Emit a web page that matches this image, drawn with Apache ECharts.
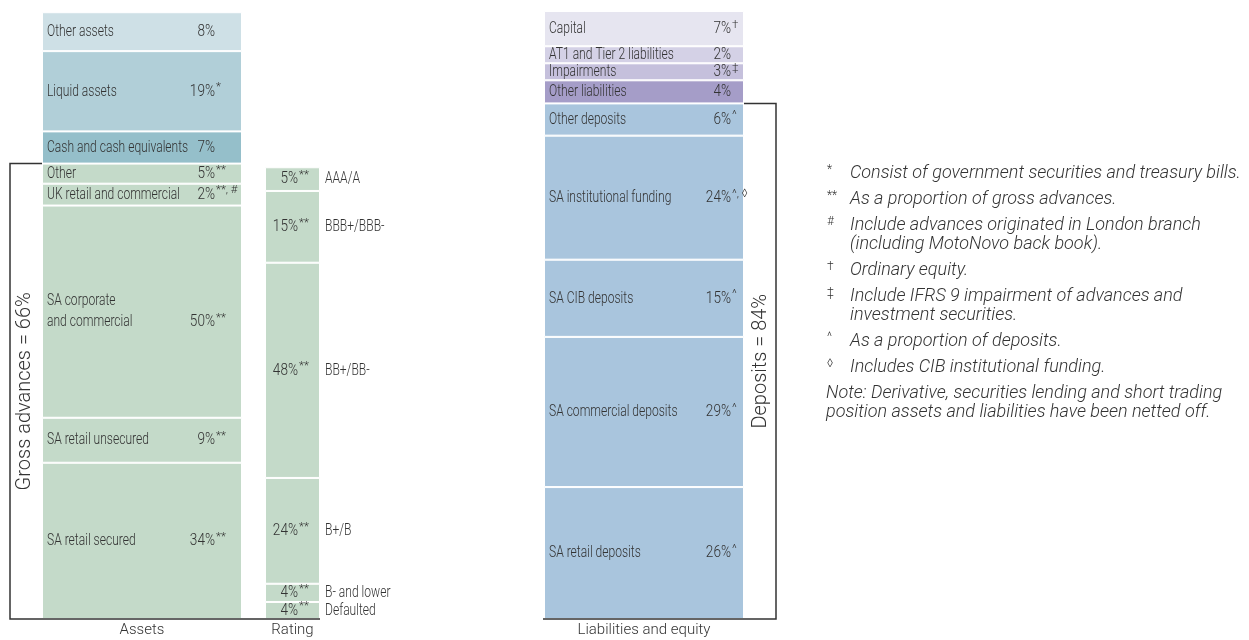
<!DOCTYPE html>
<html>
<head>
<meta charset="utf-8">
<script src="https://cdn.jsdelivr.net/npm/echarts@6/dist/echarts.min.js"></script>
<style>
  html, body { margin: 0; padding: 0; background: #fff; }
  #chart { width: 1249px; height: 640px; }
</style>
</head>
<body>
<div id="chart"></div>
<script>
// blocks are listed top to bottom; heights are the drawn share of a full column (full column = 100)
const assetNames = ['Other assets', 'Liquid assets', 'Cash and cash equivalents', 'Other', 'UK retail and commercial', 'SA corporate\nand commercial', 'SA retail unsecured', 'SA retail secured']
const assetPct = ['8%', '19%', '7%', '5%', '2%', '50%', '9%', '34%']
const assetMarks = ['', '*', '', '**', '**, #', '**', '**', '**']
const assetHeights = [6.4, 13.2, 5.3, 3.3, 3.6, 34.9, 7.4, 25.7]
const advanceCount = 5 // the last five asset blocks make up gross advances

const ratingNames = ['AAA/A', 'BBB+/BBB-', 'BB+/BB-', 'B+/B', 'B- and lower', 'Defaulted']
const ratingPct = ['5%', '15%', '48%', '24%', '4%', '4%']
const ratingHeights = [3.9, 11.8, 35.4, 17.4, 3.0, 2.8]

const liabNames = ['Capital', 'AT1 and Tier 2 liabilities', 'Impairments', 'Other liabilities', 'Other deposits', 'SA institutional funding', 'SA CIB deposits', 'SA commercial deposits', 'SA retail deposits']
const liabPct = ['7%', '2%', '3%', '4%', '6%', '24%', '15%', '29%', '26%']
const liabMarks = ['†', '', '‡', '', '^', '^, ◊', '^', '^', '^']
const liabHeights = [5.8, 2.8, 2.8, 3.8, 5.3, 20.4, 12.7, 24.7, 21.7]
const depositCount = 5

const columnTitles = ['Assets', 'Rating', 'Liabilities and equity']

const footSymbols = ['*', '**', '#', '†', '‡', '^', '◊']
const footTexts = [
  ['Consist of government securities and treasury bills.'],
  ['As a proportion of gross advances.'],
  ['Include advances originated in London branch', '(including MotoNovo back book).'],
  ['Ordinary equity.'],
  ['Include IFRS 9 impairment of advances and', 'investment securities.'],
  ['As a proportion of deposits.'],
  ['Includes CIB institutional funding.']
]
const noteLines = ['Note: Derivative, securities lending and short trading', 'position assets and liabilities have been netted off.']

const assetColors = ['#cee0e6', '#b1cfd8', '#95bfca', '#c4dac9', '#c4dac9', '#c4dac9', '#c4dac9', '#c4dac9']
const liabColors = ['#e6e5f0', '#d4d1e6', '#c5c0dc', '#a59dc8', '#a9c5dd', '#a9c5dd', '#a9c5dd', '#a9c5dd', '#a9c5dd']
const green = '#c4dac9'

const face = 'Roboto, "Liberation Sans", sans-serif'
const ink = '#333'
const squeeze = 0.71 // the original uses a condensed face, so labels are narrowed
const pctSqueeze = 0.8
const labelFont = '300 17px ' + face
const supFont = '300 11.5px ' + face
const colTop = 11
const colBottom = 619
const cols = [
  { left: 42, width: 200 },
  { left: 265, width: 55 },
  { left: 544, width: 200 }
]

const chart = echarts.init(document.getElementById('chart'))

function blocks(gridIndex, heights, colorOf) {
  const list = []
  // stacking grows from the bottom, so walk the lists backwards
  for (let i = heights.length - 1; i >= 0; i--) {
    list.push({
      type: 'bar',
      xAxisIndex: gridIndex,
      yAxisIndex: gridIndex,
      stack: 'col' + gridIndex,
      barWidth: '100%',
      silent: true,
      itemStyle: { color: colorOf(i), borderColor: '#fff', borderWidth: 1 },
      data: [heights[i]]
    })
  }
  return list
}

chart.setOption({
  animation: false,
  grid: cols.map(c => ({ left: c.left, width: c.width, top: colTop, height: colBottom - colTop })),
  xAxis: cols.map((c, i) => ({
    type: 'category',
    gridIndex: i,
    data: [columnTitles[i]],
    axisLine: { show: false },
    axisTick: { show: false },
    axisLabel: { fontFamily: face, fontWeight: 300, fontSize: 15, color: ink, margin: 4 }
  })),
  yAxis: cols.map((c, i) => ({ type: 'value', gridIndex: i, min: 0, max: 100, show: false })),
  series: [].concat(
    blocks(0, assetHeights, i => assetColors[i]),
    blocks(1, ratingHeights, () => green),
    blocks(2, liabHeights, i => liabColors[i])
  )
})

const graphic = []

function txt(text, x, y, font, align, scaleX) {
  graphic.push({
    type: 'text',
    x: x,
    y: y,
    z: 100,
    scaleX: scaleX || 1,
    silent: true,
    style: { text: text, font: font, fill: ink, align: align || 'left', verticalAlign: 'middle', lineHeight: 21 }
  })
}

// midpoint of every block, read back through the grid's own scale
function mids(gridIndex, heights) {
  const out = []
  let acc = 0
  for (let i = heights.length - 1; i >= 0; i--) {
    out[i] = chart.convertToPixel({ gridIndex }, [0, acc + heights[i] / 2])[1]
    acc += heights[i]
  }
  return out
}

function nameBlocks(col, names, pct, marks, midY, pctRight) {
  names.forEach((name, i) => {
    const lines = name.split('\n').length
    const lastY = midY[i] + (lines - 1) * 10.5
    txt(name, col.left + 5, midY[i], labelFont, 'left', squeeze)
    txt(pct[i], pctRight, lastY, labelFont, 'right', pctSqueeze)
    if (marks[i]) txt(marks[i], pctRight + 1, lastY - 4, supFont)
  })
}

nameBlocks(cols[0], assetNames, assetPct, assetMarks, mids(0, assetHeights), 215)
nameBlocks(cols[2], liabNames, liabPct, liabMarks, mids(2, liabHeights), 731)

const ratingMid = mids(1, ratingHeights)
ratingNames.forEach((name, i) => {
  txt(ratingPct[i], 298, ratingMid[i], labelFont, 'right', pctSqueeze)
  txt('**', 299, ratingMid[i] - 4, supFont)
  txt(name, 325, ratingMid[i], labelFont, 'left', squeeze)
})

const sum = arr => arr.reduce((a, b) => a + b, 0)
const advTop = chart.convertToPixel({ gridIndex: 0 }, [0, sum(assetHeights.slice(-advanceCount))])[1]
const depTop = chart.convertToPixel({ gridIndex: 2 }, [0, sum(liabHeights.slice(-depositCount))])[1]
const baseY = chart.convertToPixel({ gridIndex: 0 }, [0, 0])[1]

const lineStyle = { stroke: '#333', lineWidth: 1.5, fill: null }
graphic.push(
  {
    type: 'polyline',
    z: 100,
    shape: { points: [[cols[0].left, advTop], [10, advTop], [10, baseY], [cols[1].left + cols[1].width, baseY]] },
    style: lineStyle
  },
  {
    type: 'polyline',
    z: 100,
    shape: { points: [[cols[2].left + cols[2].width, depTop], [776, depTop], [776, baseY], [cols[2].left - 1, baseY]] },
    style: lineStyle
  },
  {
    type: 'text',
    x: 25,
    y: (advTop + baseY) / 2,
    rotation: Math.PI / 2,
    style: { text: 'Gross advances = 66%', font: '300 20px ' + face, fill: ink, align: 'center', verticalAlign: 'middle' }
  },
  {
    type: 'text',
    x: 761,
    y: (depTop + baseY) / 2,
    rotation: Math.PI / 2,
    style: { text: 'Deposits = 84%', font: '300 20px ' + face, fill: ink, align: 'center', verticalAlign: 'middle' }
  }
)

// footnotes on the right
const footFont = 'italic 300 18px ' + face
let y = 173
footTexts.forEach((lines, i) => {
  txt(footSymbols[i], 827, y - 3, '300 12px ' + face)
  lines.forEach((t, j) => txt(t, 850, y + j * 19, footFont))
  y += (lines.length - 1) * 19 + 26
})
noteLines.forEach((t, j) => txt(t, 826, y + j * 19, footFont))

chart.setOption({ graphic: graphic })
</script>
</body>
</html>
